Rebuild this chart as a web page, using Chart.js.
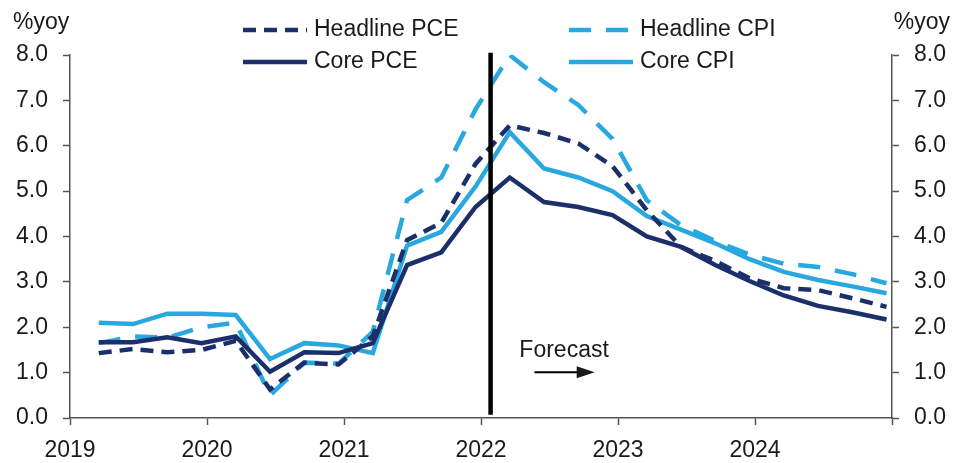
<!DOCTYPE html>
<html>
<head>
<meta charset="utf-8">
<script src="https://cdn.jsdelivr.net/npm/chart.js@4.4.1/dist/chart.umd.min.js"></script>
<style>
    body{ margin:0; background:#fff; }
    #chart{ display:block; }
</style>
</head>
<body>
<canvas id="chart" width="954" height="463"></canvas>
<script>
const quarters = [
    "2019Q1","2019Q2","2019Q3","2019Q4",
    "2020Q1","2020Q2","2020Q3","2020Q4",
    "2021Q1","2021Q2","2021Q3","2021Q4",
    "2022Q1","2022Q2","2022Q3","2022Q4",
    "2023Q1","2023Q2","2023Q3","2023Q4",
    "2024Q1","2024Q2","2024Q3","2024Q4"
];

const headlinePCE = [1.43,1.52,1.45,1.50, 1.70,0.63,1.22,1.18, 1.80,3.92,4.30,5.60,
                     6.45,6.28,6.05,5.55, 4.58,3.77,3.46,3.08, 2.86,2.82,2.64,2.45];
const corePCE     = [1.67,1.67,1.78,1.65, 1.80,1.02,1.45,1.43, 1.65,3.37,3.65,4.65,
                     5.30,4.76,4.65,4.47, 4.00,3.77,3.37,3.02, 2.70,2.47,2.33,2.17];
const headlineCPI = [1.65,1.80,1.77,2.00, 2.10,0.50,1.22,1.20, 1.90,4.80,5.30,6.80,
                     8.00,7.40,6.90,6.15, 4.80,4.25,3.90,3.60, 3.40,3.33,3.17,2.97];
const coreCPI     = [2.10,2.07,2.30,2.30, 2.27,1.30,1.65,1.60, 1.43,3.80,4.10,5.10,
                     6.30,5.50,5.30,5.00, 4.45,4.15,3.85,3.50, 3.22,3.04,2.90,2.75];

const yearMin = 2019;
const yearMax = 2025;
const forecastStart = 2022.07;

const navy = "#1b2f6b";
const sky = "#29a8e0";
const ink = "#1a1a1a";
const axisGrey = "#555";
const font = "23px 'Liberation Sans', Arial, sans-serif";

function quarterPos(q){
    const year = Number(q.slice(0,4));
    const n = Number(q.slice(5));
    return year + (n - 1) * 0.25 + 0.21;
}

function series(values){
    return values.map((v,i) => ({x:quarterPos(quarters[i]), y:v}));
}

function line(label, values, color, dash){
    return {
        label:label,
        data:series(values),
        borderColor:color,
        borderWidth:4.5,
        borderDash:dash,
        pointRadius:0,
        tension:0,
        fill:false
    };
}

const legendItems = [
    {label:"Headline PCE", color:navy, dash:[13,8], x:243, y:30},
    {label:"Core PCE",     color:navy, dash:[],     x:243, y:62},
    {label:"Headline CPI", color:sky,  dash:[22,15], x:569, y:30},
    {label:"Core CPI",     color:sky,  dash:[],     x:569, y:62}
];

const extras = {
    id:"extras",
    afterDatasetsDraw(chart){
        const c = chart.ctx;
        const xs = chart.scales.x;
        const ys = chart.scales.y;

        c.save();

        // forecast divider
        const fx = xs.getPixelForValue(forecastStart);
        c.strokeStyle = "#000";
        c.lineWidth = 4.5;
        c.setLineDash([]);
        c.beginPath();
        c.moveTo(fx, ys.getPixelForValue(8.05));
        c.lineTo(fx, ys.getPixelForValue(0.07));
        c.stroke();

        // forecast label and arrow
        c.fillStyle = ink;
        c.font = font;
        c.textAlign = "left";
        c.textBaseline = "middle";
        c.fillText("Forecast", xs.getPixelForValue(2022.28), ys.getPixelForValue(1.48));

        const ay = ys.getPixelForValue(1.01);
        const a0 = xs.getPixelForValue(2022.39);
        const a1 = xs.getPixelForValue(2022.83);
        c.lineWidth = 2;
        c.beginPath();
        c.moveTo(a0, ay);
        c.lineTo(a1 - 14, ay);
        c.stroke();
        c.beginPath();
        c.moveTo(a1, ay);
        c.lineTo(a1 - 18, ay - 6);
        c.lineTo(a1 - 18, ay + 6);
        c.closePath();
        c.fill();

        // axis units
        c.fillText("%yoy", 13, 23);
        c.textAlign = "right";
        c.fillText("%yoy", 950, 23);

        // legend
        legendItems.forEach(it => {
            c.strokeStyle = it.color;
            c.lineWidth = 4.5;
            c.setLineDash(it.dash);
            c.beginPath();
            c.moveTo(it.x, it.y);
            c.lineTo(it.x + 64, it.y);
            c.stroke();
            c.setLineDash([]);
            c.fillStyle = ink;
            c.textAlign = "left";
            c.fillText(it.label, it.x + 71, it.y);
        });

        c.restore();
    }
};

function yAxis(position, width){
    return {
        type:"linear",
        position:position,
        min:0,
        max:8,
        afterFit(s){ s.width = width; },
        border:{display:true, color:axisGrey, width:1.5},
        grid:{drawOnChartArea:false, tickLength:7, tickColor:axisGrey, tickWidth:1.5},
        ticks:{
            stepSize:1,
            padding:15,
            color:ink,
            font:{family:"'Liberation Sans', Arial, sans-serif", size:23},
            callback:v => Number(v).toFixed(1)
        }
    };
}

window.onload = () => {

    new Chart(document.getElementById("chart"),{
        type:"line",

        data:{
            datasets:[
                line("Core PCE", corePCE, navy, []),
                line("Headline PCE", headlinePCE, navy, [13,8]),
                line("Core CPI", coreCPI, sky, []),
                line("Headline CPI", headlineCPI, sky, [22,15])
            ]
        },

        options:{
            responsive:false,
            animation:false,
            devicePixelRatio:1,
            layout:{padding:{top:55, right:0, bottom:0, left:0}},

            plugins:{
                legend:{display:false},
                tooltip:{enabled:false}
            },

            scales:{
                x:{
                    type:"linear",
                    min:yearMin,
                    max:yearMax,
                    afterFit(s){ s.height = 45; },
                    border:{display:true, color:axisGrey, width:1.5},
                    grid:{drawOnChartArea:false, tickLength:7, tickColor:axisGrey, tickWidth:1.5},
                    ticks:{
                        stepSize:1,
                        padding:12,
                        color:ink,
                        maxRotation:0,
                        font:{family:"'Liberation Sans', Arial, sans-serif", size:23},
                        callback:v => v < yearMax ? String(v) : ""
                    }
                },

                y:yAxis("left", 70),

                y2:yAxis("right", 62)
            }
        },

        plugins:[extras]
    });
};
</script>
</body>
</html>
